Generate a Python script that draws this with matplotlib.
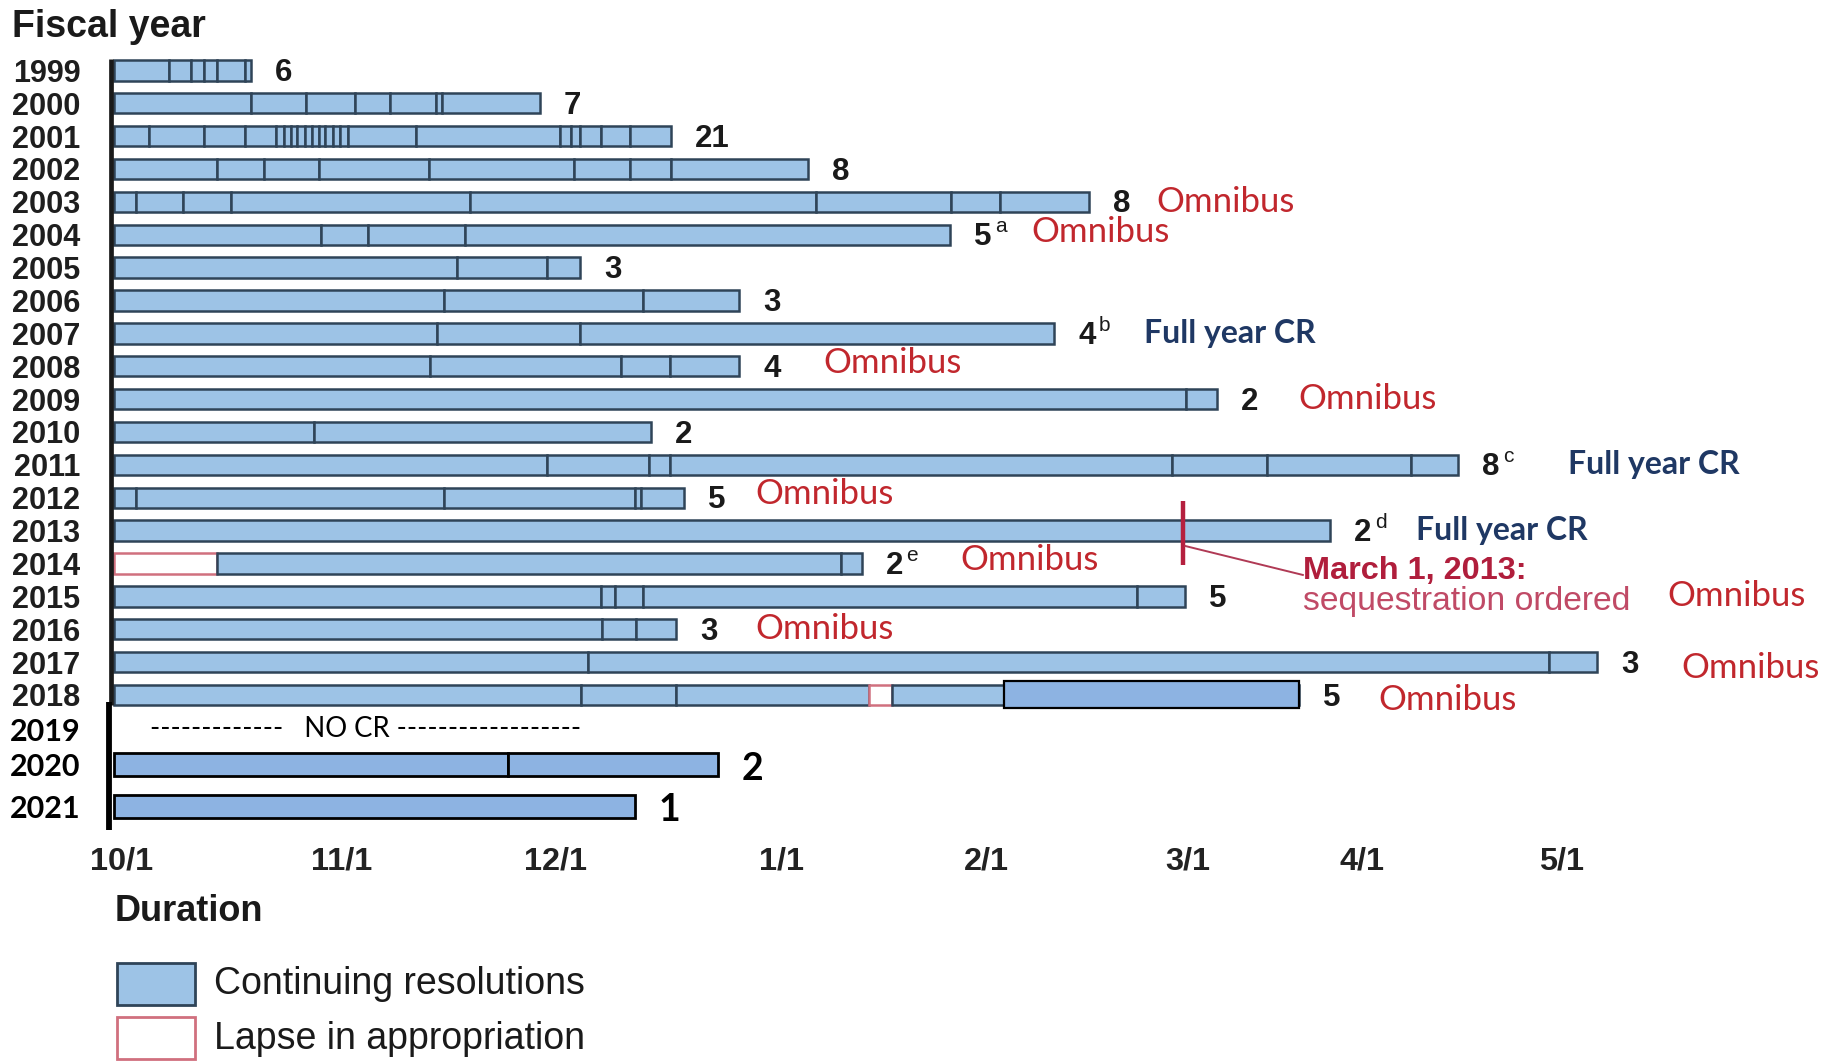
import matplotlib
matplotlib.use('Agg')
import matplotlib.pyplot as plt
from matplotlib import font_manager
from matplotlib.patches import Rectangle


def have_font(name):
    try:
        font_manager.findfont(name, fallback_to_default=False)
        return True
    except ValueError:
        return False


# narrow bold face like the original (Arial Narrow); fall back to Liberation Sans
if have_font('Liberation Sans Narrow'):
    NARROW, NF = 'Liberation Sans Narrow', 1.0
else:
    NARROW, NF = 'Liberation Sans', 0.9
SANS = 'Liberation Sans'
CAL = 'Lato'

# ---- data (x = days after Oct 1) ----
years = [1999, 2000, 2001, 2002, 2003, 2004, 2005, 2006, 2007, 2008, 2009,
         2010, 2011, 2012, 2013, 2014, 2015, 2016, 2017, 2018, 2019, 2020, 2021]

cr_bounds = {
    1999: [0, 8.1, 11.3, 13.2, 15.2, 19.2, 20.1],
    2000: [0, 20.1, 28.1, 35.3, 40.4, 47.2, 48.1, 62.4],
    2001: [0, 5.2, 13.2, 19.2, 23.8, 24.9, 25.9, 26.9, 28.0, 29.0, 30.0, 31.0,
           32.1, 33.1, 34.3, 44.2, 65.3, 67.0, 68.2, 71.4, 75.6, 81.6],
    2002: [0, 15.1, 22.0, 30.1, 46.2, 67.4, 75.6, 81.6, 101.6],
    2003: [0, 3.3, 10.1, 17.2, 52.2, 102.8, 122.6, 129.7, 142.8],
    2004: [0, 30.3, 37.3, 51.4, 122.5],
    2005: [0, 50.3, 63.4, 68.3],
    2006: [0, 48.3, 77.5, 91.6],
    2007: [0, 47.3, 68.3, 137.7],
    2008: [0, 46.3, 74.3, 81.5, 91.6],
    2009: [0, 157.0, 161.5],
    2010: [0, 29.3, 78.6],
    2011: [0, 63.4, 78.4, 81.5, 154.9, 168.9, 190.0, 196.8],
    2012: [0, 3.2, 48.3, 76.3, 77.2, 83.5],
    2013: [0, 156.6, 178.1],
    2014: [0, 15.1, 106.5, 109.5],
    2015: [0, 71.4, 73.4, 77.5, 149.8, 156.9],
    2016: [0, 71.5, 76.4, 82.4],
    2017: [0, 69.5, 210.1, 217.2],
    2018: [0, 68.4, 82.4, 110.6, 113.9, 130.4, 173.5],
    2020: [0, 57.8, 88.5],
    2021: [0, 76.3],
}
lapses = {2014: [(0, 15.1)], 2018: [(110.6, 113.9)]}
# segments drawn in the newer (darker, taller) style
new_style = {2018: [(130.4, 173.5)]}

cr_counts = {1999: '6', 2000: '7', 2001: '21', 2002: '8', 2003: '8', 2004: '5',
             2005: '3', 2006: '3', 2007: '4', 2008: '4', 2009: '2', 2010: '2',
             2011: '8', 2012: '5', 2013: '2', 2014: '2', 2015: '5', 2016: '3',
             2017: '3', 2018: '5', 2020: '2', 2021: '1'}
footnotes = {2004: 'a', 2007: 'b', 2011: 'c', 2013: 'd', 2014: 'e'}
outcomes = {2003: 'Omnibus', 2004: 'Omnibus', 2007: 'Full year CR', 2008: 'Omnibus',
            2009: 'Omnibus', 2011: 'Full year CR', 2012: 'Omnibus',
            2013: 'Full year CR', 2014: 'Omnibus', 2015: 'Omnibus',
            2016: 'Omnibus', 2017: 'Omnibus', 2018: 'Omnibus'}
# horizontal place of the outcome text (days)
outcome_x = {2003: 152.7, 2004: 134.3, 2007: 150.9, 2008: 103.9, 2009: 173.4,
             2011: 212.9, 2012: 94.0, 2013: 190.6, 2014: 124.0, 2015: 227.4,
             2016: 94.0, 2017: 229.5, 2018: 185.1}
outcome_dy = {2004: -0.08, 2008: -0.1, 2012: -0.1, 2014: -0.1, 2017: 0.17,
              2018: 0.15}

sequestration_day = 156.6

tick_pos = [1.2, 33.4, 64.7, 97.8, 127.8, 157.3, 182.7, 212.0]
tick_labels = ['10/1', '11/1', '12/1', '1/1', '2/1', '3/1', '4/1', '5/1']

# row layout
row_pos = list(range(20)) + [20.05, 21.13, 22.38]
row_of = dict(zip(years, row_pos))

CR_FILL, CR_EDGE = '#9DC3E6', '#2F4458'
NEW_FILL, NEW_EDGE = '#8DB3E2', '#000000'
LAPSE_EDGE = '#D0707E'
RED = '#C1272D'
NAVY = '#1F3864'

fig = plt.figure(figsize=(18.37, 10.63), dpi=100)
ax = fig.add_axes([100 / 1837, 1 - 834 / 1063, 1 - 100 / 1837, 834 / 1063])
ax.set_xlim(-2.0, 252.3)
ax.set_ylim(23.23, -2.14)
for s in ax.spines.values():
    s.set_visible(False)

for yr, bounds in cr_bounds.items():
    y = row_of[yr]
    newer = yr >= 2020
    h = 0.70 if newer else 0.62
    gaps = lapses.get(yr, [])
    for a, b in zip(bounds[:-1], bounds[1:]):
        if (a, b) in gaps:
            ax.barh(y, b - a, left=a, height=h, color='white',
                    edgecolor=LAPSE_EDGE, linewidth=1.8, zorder=3)
        elif newer:
            ax.barh(y, b - a, left=a, height=h, color=NEW_FILL,
                    edgecolor=NEW_EDGE, linewidth=2.0, zorder=3)
        else:
            ax.barh(y, b - a, left=a, height=h, color=CR_FILL,
                    edgecolor=CR_EDGE, linewidth=1.8, zorder=3)
    for a, b in new_style.get(yr, []):
        ax.barh(y, b - a, left=a, height=0.82, color=NEW_FILL,
                edgecolor=NEW_EDGE, linewidth=1.6, zorder=4)

# counts, footnotes, outcomes
for yr, cnt in cr_counts.items():
    y = row_of[yr]
    end = max([cr_bounds[yr][-1]] + [b for a, b in new_style.get(yr, [])])
    xn = end + 3.5
    if yr >= 2020:
        ax.text(xn, y + 0.12, cnt, ha='left', va='center', fontsize=27,
                fontfamily=CAL, fontweight='bold', color='black')
    else:
        ax.text(xn, y + 0.08, cnt, ha='left', va='center', fontsize=25 * NF,
                fontfamily=NARROW, fontweight='bold', color='#1a1a1a')
    if yr in footnotes:
        ax.annotate(footnotes[yr], (xn, y), xytext=(15, 6),
                    textcoords='offset points', ha='left', va='center',
                    fontsize=15, fontfamily=SANS, color='#1a1a1a')
    if yr in outcomes:
        txt = outcomes[yr]
        if txt == 'Omnibus':
            ax.text(outcome_x[yr], y + outcome_dy.get(yr, 0), txt, ha='left',
                    va='center', fontsize=25, fontfamily=CAL, color=RED)
        else:
            ax.text(outcome_x[yr], y + outcome_dy.get(yr, 0), txt, ha='left',
                    va='center', fontsize=23, fontfamily=CAL,
                    fontweight='bold', color=NAVY)

ax.text(5.3, row_of[2019], '-------------   NO CR ------------------', ha='left',
        va='center', fontsize=19.8, fontfamily=CAL, color='black')

# sequestration marker
ax.plot([sequestration_day, sequestration_day], [13.11, 15.04], color='#B5203F',
        lw=3.2, solid_capstyle='butt', zorder=6)
ax.plot([sequestration_day + 0.3, 174.1], [14.47, 15.35], color='#B03A55', lw=1.4,
        zorder=6)
ax.text(174.1, 15.22, 'March 1, 2013:', ha='left', va='center',
        fontsize=26 * NF, fontfamily=NARROW, fontweight='bold', color='#B01E3C')
ax.text(174.1, 16.15, 'sequestration ordered', ha='left', va='center',
        fontsize=27 * NF, fontfamily=NARROW, color='#C04A66')

# vertical axis line (two pieces like the original)
ax.plot([-0.34, -0.34], [-0.36, 19.3], color='#1a1a1a', lw=3.4,
        solid_capstyle='butt', clip_on=False, zorder=5)
ax.plot([-0.7, -0.7], [19.2, 23.1], color='black', lw=4.2,
        solid_capstyle='butt', clip_on=False, zorder=5)

# ticks
ax.set_xticks(tick_pos)
ax.set_xticklabels(tick_labels, fontsize=26 * NF, fontfamily=NARROW,
                   fontweight='bold', color='#222222')
ax.set_yticks(row_pos)
ax.set_yticklabels([str(y) for y in years])
ax.tick_params(axis='x', length=0, pad=9)
ax.tick_params(axis='y', length=0, pad=14)
for lab, yr in zip(ax.get_yticklabels(), years):
    if yr >= 2019:
        lab.set_fontfamily(CAL)
        lab.set_fontweight('bold')
        lab.set_fontsize(22)
        lab.set_color('black')
    else:
        lab.set_fontfamily(NARROW)
        lab.set_fontweight('bold')
        lab.set_fontsize(24.5 * NF)
        lab.set_color('#1e1e1e')

fig.text(0.0065, 0.9745, 'Fiscal year', ha='left', va='center', fontsize=27,
         fontfamily=SANS, fontweight='bold', color='#1a1a1a')

# legend
fig.text(0.0625, 0.1425, 'Duration', ha='left', va='center', fontsize=26,
         fontfamily=SANS, fontweight='bold', color='#1a1a1a')
fig.add_artist(Rectangle((0.0637, 0.0546), 0.0422, 0.0395, transform=fig.transFigure,
                         facecolor=CR_FILL, edgecolor=CR_EDGE, lw=2))
fig.add_artist(Rectangle((0.0637, 0.0040), 0.0422, 0.0395, transform=fig.transFigure,
                         facecolor='white', edgecolor=LAPSE_EDGE, lw=2))
fig.text(0.1167, 0.0743, 'Continuing resolutions', ha='left', va='center',
         fontsize=27, fontfamily=SANS, color='#1a1a1a')
fig.text(0.1167, 0.0224, 'Lapse in appropriation', ha='left', va='center',
         fontsize=27, fontfamily=SANS, color='#1a1a1a')

fig.savefig('out.png', dpi=100, facecolor='white')
